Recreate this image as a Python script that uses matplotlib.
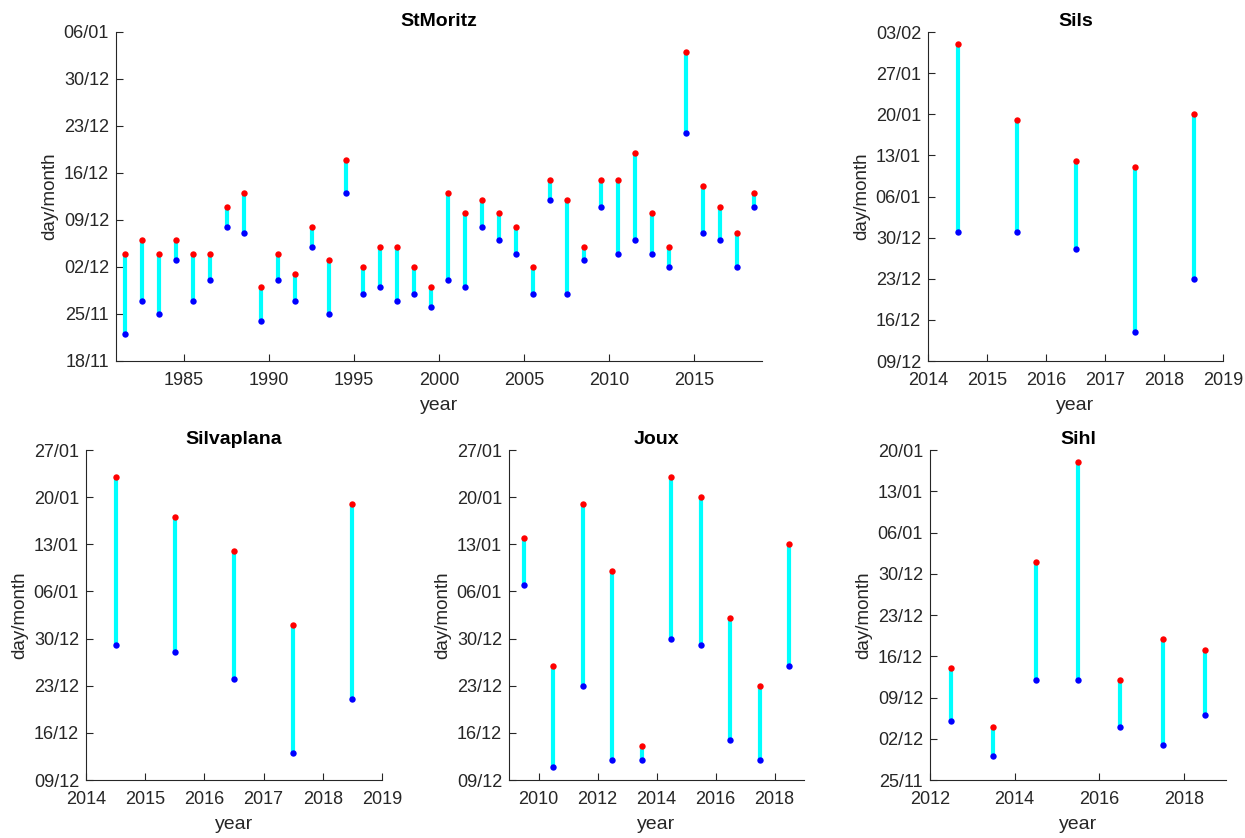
import datetime as dt
import matplotlib
matplotlib.use("Agg")
import matplotlib.pyplot as plt
import matplotlib.dates as mdates

plt.rcParams['font.family'] = ['Liberation Sans', 'DejaVu Sans']

# Winters are labelled by the year they start in; each point sits mid-winter (year + 0.5).
# Dates are day/month; the "freeze" date (blue) and the "thaw/full" date (red).
stm_years = list(range(1981, 2019))
stm_start = ["22/11", "27/11", "25/11", "03/12", "27/11", "30/11", "08/12", "07/12", "24/11", "30/11",
             "27/11", "05/12", "25/11", "13/12", "28/11", "29/11", "27/11", "28/11", "26/11", "30/11",
             "29/11", "08/12", "06/12", "04/12", "28/11", "12/12", "28/11", "03/12", "11/12", "04/12",
             "06/12", "04/12", "02/12", "22/12", "07/12", "06/12", "02/12", "11/12"]
stm_end = ["04/12", "06/12", "04/12", "06/12", "04/12", "04/12", "11/12", "13/12", "29/11", "04/12",
           "01/12", "08/12", "03/12", "18/12", "02/12", "05/12", "05/12", "02/12", "29/11", "13/12",
           "10/12", "12/12", "10/12", "08/12", "02/12", "15/12", "12/12", "05/12", "15/12", "15/12",
           "19/12", "10/12", "05/12", "03/01", "14/12", "11/12", "07/12", "13/12"]

sils_years = [2014, 2015, 2016, 2017, 2018]
sils_start = ["31/12", "31/12", "28/12", "14/12", "23/12"]
sils_end = ["01/02", "19/01", "12/01", "11/01", "20/01"]

silv_years = [2014, 2015, 2016, 2017, 2018]
silv_start = ["29/12", "28/12", "24/12", "13/12", "21/12"]
silv_end = ["23/01", "17/01", "12/01", "01/01", "19/01"]

joux_years = [2009, 2010, 2011, 2012, 2013, 2014, 2015, 2016, 2017, 2018]
joux_start = ["07/01", "11/12", "23/12", "12/12", "12/12", "30/12", "29/12", "15/12", "12/12", "26/12"]
joux_end = ["14/01", "26/12", "19/01", "09/01", "14/12", "23/01", "20/01", "02/01", "23/12", "13/01"]

sihl_years = [2012, 2013, 2014, 2015, 2016, 2017, 2018]
sihl_start = ["05/12", "29/11", "12/12", "12/12", "04/12", "01/12", "06/12"]
sihl_end = ["14/12", "04/12", "01/01", "18/01", "12/12", "19/12", "17/12"]

# y-axis tick labels and x-axis settings per panel
stm_yticks = ["18/11", "25/11", "02/12", "09/12", "16/12", "23/12", "30/12", "06/01"]
sils_yticks = ["09/12", "16/12", "23/12", "30/12", "06/01", "13/01", "20/01", "27/01", "03/02"]
silv_yticks = ["09/12", "16/12", "23/12", "30/12", "06/01", "13/01", "20/01", "27/01"]
joux_yticks = ["09/12", "16/12", "23/12", "30/12", "06/01", "13/01", "20/01", "27/01"]
sihl_yticks = ["25/11", "02/12", "09/12", "16/12", "23/12", "30/12", "06/01", "13/01", "20/01"]

stm_xticks = [1985, 1990, 1995, 2000, 2005, 2010, 2015]
sils_xticks = [2014, 2015, 2016, 2017, 2018, 2019]
silv_xticks = [2014, 2015, 2016, 2017, 2018, 2019]
joux_xticks = [2010, 2012, 2014, 2016, 2018]
sihl_xticks = [2012, 2014, 2016, 2018]


def winter_day(s):
    """Map a dd/mm string onto a single reference winter (Nov-Dec 2001, Jan-Feb 2002)."""
    d, m = (int(p) for p in s.split("/"))
    year = 2001 if m >= 7 else 2002
    return mdates.date2num(dt.datetime(year, m, d))


W, H = 1245, 838
fig = plt.figure(figsize=(W / 100, H / 100), dpi=100)


def make_axes(left, right, top, bottom):
    return fig.add_axes([left / W, 1 - bottom / H, (right - left) / W, (bottom - top) / H])


AX_COLOR = "#262626"


def draw_panel(ax, title, years, start, end, yticks, xticks, xlim):
    xs = [y + 0.5 for y in years]
    ys = [winter_day(s) for s in start]
    ye = [winter_day(s) for s in end]
    for x, a, b in zip(xs, ys, ye):
        ax.plot([x, x], [a, b], color="cyan", lw=3.0, solid_capstyle="butt", zorder=2)
    ax.plot(xs, ye, "o", color="red", ms=4.6, mec="none", zorder=3)
    ax.plot(xs, ys, "o", color="blue", ms=4.6, mec="none", zorder=3)
    yt = [winter_day(s) for s in yticks]
    ax.set_ylim(yt[0], yt[-1])
    ax.set_yticks(yt)
    ax.yaxis.set_major_formatter(mdates.DateFormatter("%d/%m"))
    ax.set_xlim(*xlim)
    ax.set_xticks(xticks)
    ax.set_xticklabels([str(t) for t in xticks])
    ax.set_title(title, fontsize=14, fontweight="bold", pad=4)
    ax.set_xlabel("year", fontsize=14, color=AX_COLOR, labelpad=6)
    ax.set_ylabel("day/month", fontsize=13.5, color=AX_COLOR, labelpad=4)
    for side in ("top", "right"):
        ax.spines[side].set_visible(False)
    for side in ("left", "bottom"):
        ax.spines[side].set_color(AX_COLOR)
        ax.spines[side].set_linewidth(0.8)
    ax.tick_params(direction="in", length=5, width=0.8, color=AX_COLOR,
                   labelcolor=AX_COLOR, labelsize=13)
    ax.tick_params(axis="x", pad=8)
    ax.tick_params(axis="y", pad=5)


ax1 = make_axes(116, 762, 32, 361)
draw_panel(ax1, "StMoritz", stm_years, stm_start, stm_end, stm_yticks, stm_xticks, (1981, 2019))

ax2 = make_axes(928, 1223, 32, 361)
draw_panel(ax2, "Sils", sils_years, sils_start, sils_end, sils_yticks, sils_xticks, (2014, 2019))

ax3 = make_axes(86, 382, 450, 780)
draw_panel(ax3, "Silvaplana", silv_years, silv_start, silv_end, silv_yticks, silv_xticks, (2014, 2019))

ax4 = make_axes(509, 804, 450, 780)
draw_panel(ax4, "Joux", joux_years, joux_start, joux_end, joux_yticks, joux_xticks, (2009, 2019))

ax5 = make_axes(930, 1226, 450, 780)
draw_panel(ax5, "Sihl", sihl_years, sihl_start, sihl_end, sihl_yticks, sihl_xticks, (2012, 2019))

fig.savefig("out.png", dpi=100, facecolor="white")
